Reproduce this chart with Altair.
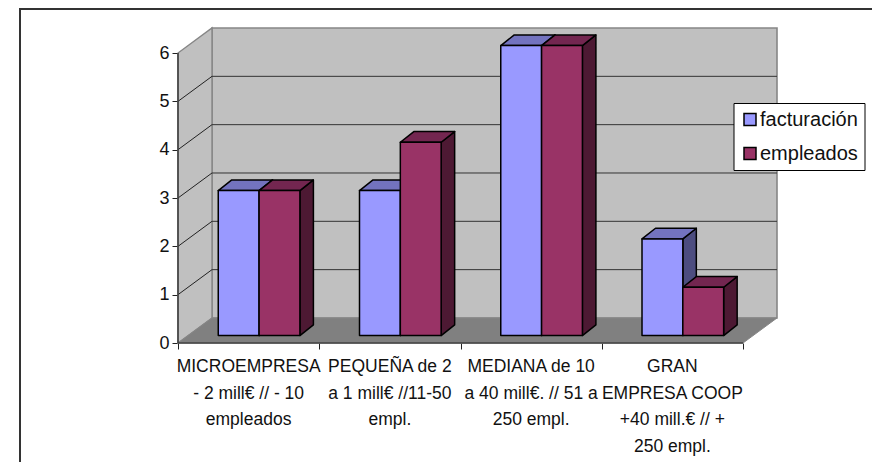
import altair as alt
import pandas as pd

categories = [
    "MICROEMPRESA\n- 2 mill€ // - 10\nempleados",
    "PEQUEÑA de 2\na 1 mill€ //11-50\nempl.",
    "MEDIANA de 10\na 40 mill€. // 51 a\n250 empl.",
    "GRAN\nEMPRESA COOP\n+40 mill.€ // +\n250 empl.",
]
facturacion = [3, 3, 6, 2]
empleados = [3, 4, 6, 1]
series = ["facturación", "empleados"]
y_ticks = [0, 1, 2, 3, 4, 5, 6]
x_ticks = [0, 1, 2, 3, 4]
front_colors = ["#9999FF", "#993366"]
top_colors = ["#7373BF", "#732650"]
side_colors = ["#4D4D80", "#4D1933"]

# Perspective depth, in axis units
WALL_DX, WALL_DY = 0.2407, 0.5176
BAR_DX, BAR_DY = 0.0956, 0.2215
BASE_DY = 0.153
BAR_LEFT, BAR_W = 0.285, 0.289

xs = alt.Scale(domain=[0, 4 + WALL_DX], nice=False, zero=False)
ys = alt.Scale(domain=[0, 6 + WALL_DY], nice=False, zero=False)
x_axis = alt.Axis(
    values=x_ticks, labels=False, domain=False, grid=False, title=None,
    tickColor="#222222", tickSize=6, tickWidth=1)
y_axis = alt.Axis(
    values=y_ticks, domain=False, grid=False, format="d", title=None,
    tickColor="#222222", tickSize=6, tickWidth=1,
    labelFont="Liberation Sans", labelFontSize=18, labelColor="#111111",
    labelPadding=3, labelOverlap=False)
X = lambda f="x": alt.X(f"{f}:Q", scale=xs, axis=x_axis, title=None)
Y = lambda f="y": alt.Y(f"{f}:Q", scale=ys, axis=y_axis, title=None, stack=None)
X2 = lambda f="x2": alt.X2(f"{f}:Q")
Y2 = lambda f="y2": alt.Y2(f"{f}:Q")

WALL = "#C0C0C0"
FLOOR = "#808080"
EDGE = "#868686"

# Walls and floor
back = alt.Chart(pd.DataFrame({"x": [WALL_DX], "x2": [4 + WALL_DX], "y": [WALL_DY], "y2": [6 + WALL_DY]})).mark_rect(
    fill=WALL, stroke=EDGE, strokeWidth=1.6).encode(x=X(), x2=X2(), y=Y(), y2=Y2())
side_wall = alt.Chart(pd.DataFrame({"x": [0, WALL_DX], "y": [0, WALL_DY], "y2": [6, 6 + WALL_DY]})).mark_area(
    fill=WALL, stroke=EDGE, strokeWidth=1.4).encode(x=X(), y=Y(), y2=Y2())
floor = alt.Chart(pd.DataFrame({"y": [0, WALL_DY], "x": [0, WALL_DX], "x2": [4, 4 + WALL_DX]})).mark_area(
    orient="horizontal", fill=FLOOR, stroke=EDGE, strokeWidth=1).encode(y=Y(), x=X(), x2=X2())

# Gridlines
grid_levels = [k for k in y_ticks if 0 < k < 6]
back_grid = alt.Chart(pd.DataFrame({
    "x": [WALL_DX] * len(grid_levels), "x2": [4 + WALL_DX] * len(grid_levels),
    "y": [k + WALL_DY for k in grid_levels]})).mark_rule(color="#333333", strokeWidth=1).encode(x=X(), x2=X2(), y=Y())
diag_rows = []
for k in grid_levels:
    diag_rows += [{"k": k, "x": 0, "y": k}, {"k": k, "x": WALL_DX, "y": k + WALL_DY}]
side_grid = alt.Chart(pd.DataFrame(diag_rows)).mark_line(color="#222222", strokeWidth=1).encode(
    x=X(), y=Y(), detail="k:N")

# Axis lines
y_line = alt.Chart(pd.DataFrame({"x": [0], "y": [0], "y2": [6]})).mark_rule(color="#404040", strokeWidth=1.6).encode(
    x=X(), y=Y(), y2=Y2())
x_line = alt.Chart(pd.DataFrame({"x": [0], "x2": [4], "y": [0]})).mark_rule(color="#404040", strokeWidth=1.6).encode(
    x=X(), x2=X2(), y=Y())

# Bars: three faces each
front_rows, top_rows, side_rows = [], [], []
for i in range(len(categories)):
    for j, (name, vals) in enumerate(zip(series, [facturacion, empleados])):
        v = vals[i]
        xl = i + BAR_LEFT + j * BAR_W
        xr = xl + BAR_W
        b = BASE_DY
        t = BASE_DY + v
        bid = f"{i}-{j}"
        front_rows.append({"serie": name, "x": xl, "x2": xr, "y": b, "y2": t})
        top_rows += [
            {"bar": bid, "serie": name, "y": t, "x": xl, "x2": xr},
            {"bar": bid, "serie": name, "y": t + BAR_DY, "x": xl + BAR_DX, "x2": xr + BAR_DX},
        ]
        side_rows += [
            {"bar": bid, "serie": name, "x": xr, "y": b, "y2": t},
            {"bar": bid, "serie": name, "x": xr + BAR_DX, "y": b + BAR_DY, "y2": t + BAR_DY},
        ]

BAR_STROKE = dict(stroke="black", strokeWidth=1.5, strokeJoin="round")
sides = alt.Chart(pd.DataFrame(side_rows)).mark_area(**BAR_STROKE).encode(
    x=X(), y=Y(), y2=Y2(), detail="bar:N",
    color=alt.Color("serie:N", scale=alt.Scale(domain=series, range=side_colors), legend=None),
)
tops = alt.Chart(pd.DataFrame(top_rows)).mark_area(orient="horizontal", **BAR_STROKE).encode(
    y=Y(), x=X(), x2=X2(), detail="bar:N",
    color=alt.Color("serie:N", scale=alt.Scale(domain=series, range=top_colors), legend=None),
)
fronts = alt.Chart(pd.DataFrame(front_rows)).mark_rect(**BAR_STROKE).encode(
    x=X(), x2=X2(), y=Y(), y2=Y2(),
    color=alt.Color("serie:N", title=None, scale=alt.Scale(domain=series, range=front_colors), legend=alt.Legend(
        orient="none", legendX=555.5, legendY=75, zindex=1,
        fillColor="white", strokeColor="black", padding=6.5, rowPadding=14,
        symbolType="square", symbolSize=144, symbolStrokeColor="black", symbolStrokeWidth=1.5,
        labelFont="Liberation Sans", labelFontSize=20, labelColor="#111111", labelOffset=0,
    )),
)

# Category labels
labels = alt.Chart(pd.DataFrame({"x": [i + 0.5 for i in range(len(categories))], "y": [0] * len(categories), "t": categories})).mark_text(
    font="Liberation Sans", fontSize=17.5, color="#111111", align="center", baseline="alphabetic",
    lineBreak="\n", lineHeight=26.7, dy=29,
).encode(x=X(), y=Y(), text="t:N")

# Outer frame
frame_left = alt.Chart(pd.DataFrame({"a": [0]})).mark_rule(color="#333333", strokeWidth=2).encode(
    x=alt.value(-158), y=alt.value(-19), y2=alt.value(440))
frame_top = alt.Chart(pd.DataFrame({"a": [0]})).mark_rule(color="#333333", strokeWidth=2).encode(
    y=alt.value(-19), x=alt.value(-159), x2=alt.value(702))

chart = alt.layer(
    back, side_wall, floor, back_grid, side_grid, y_line, x_line,
    sides, tops, fronts, labels, frame_left, frame_top,
).resolve_scale(color="independent").properties(
    width=599, height=315,
    padding={"left": 170, "top": 20, "right": 95, "bottom": 119},
    autosize=alt.AutoSizeParams(type="none"),
    background="white",
).configure_view(stroke=None)

chart.save("out.html", embed_options={"renderer": "svg", "actions": False})
